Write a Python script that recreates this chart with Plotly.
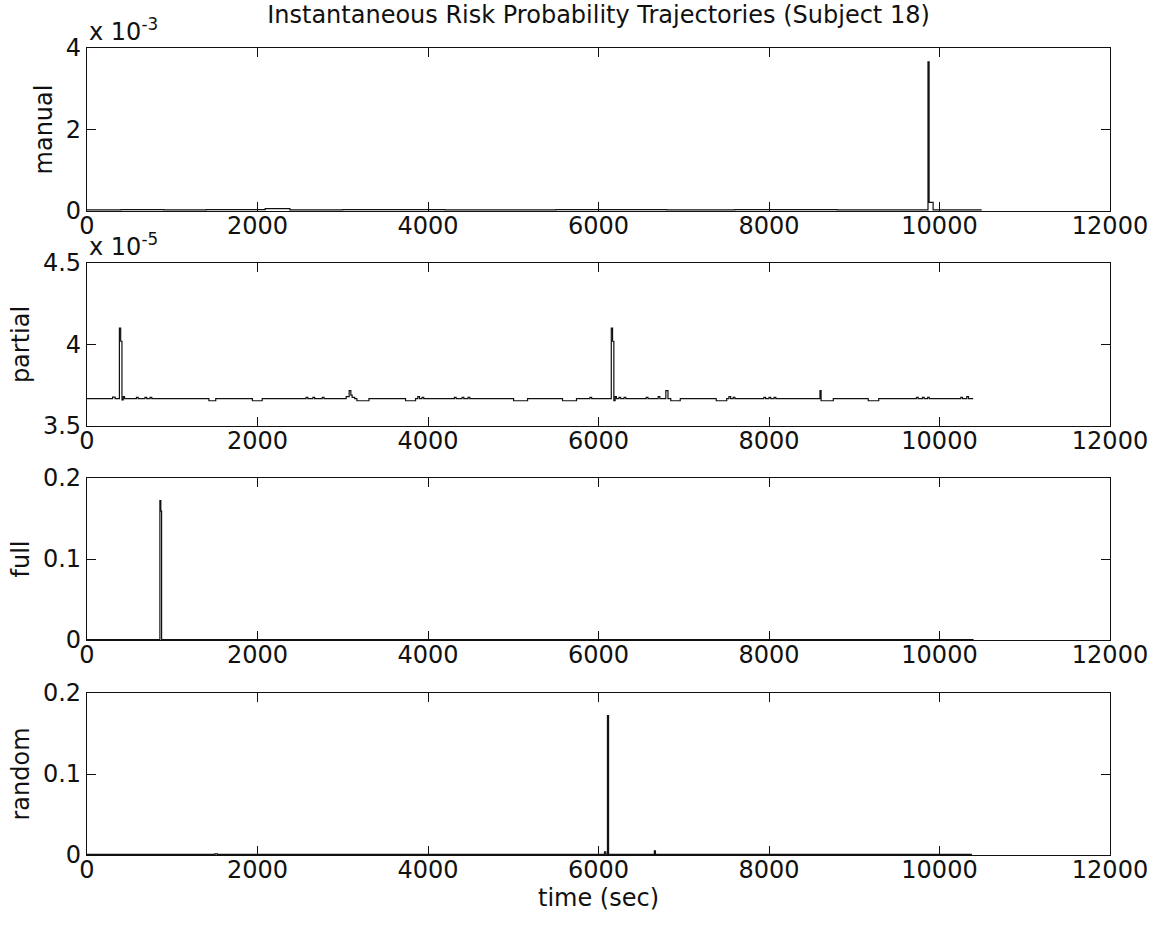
import plotly.graph_objects as go
from plotly.subplots import make_subplots

# ---------------- data ----------------
x_ticks = [0, 2000, 4000, 6000, 8000, 10000, 12000]
x_tick_labels = ["0", "2000", "4000", "6000", "8000", "10000", "12000"]

# manual (units of 1e-3), step trajectory
manual_t = [0, 400, 900, 1400, 2090, 2380, 3000, 4200, 5500, 6800, 7600, 8800,
            9865, 9878, 9925, 10495]
manual_v = [0.03, 0.035, 0.03, 0.035, 0.06, 0.03, 0.035, 0.03, 0.035, 0.03,
            0.035, 0.03, 3.66, 0.21, 0.03, 0.03]

# partial (units of 1e-5), step trajectory
partial_t = [0, 300, 330, 380, 395, 410, 425, 440, 580, 600, 680, 700, 740, 760,
             1430, 1510, 1940, 2055, 2570, 2590, 2650, 2670, 2760, 2780,
             3040, 3075, 3095, 3110, 3140, 3166, 3307, 3737, 3854, 3880, 3900,
             3930, 3950, 4310, 4330, 4400, 4420, 4470, 4490,
             5004, 5168, 5578, 5742, 5900, 5920,
             6150, 6165, 6180, 6195, 6210, 6240, 6260, 6300, 6320,
             6560, 6580, 6700, 6720, 6790, 6815, 6848, 6959,
             7381, 7504, 7530, 7550, 7580, 7600,
             7940, 7960, 8000, 8020, 8060, 8080,
             8598, 8611, 8754, 9164, 9287,
             9730, 9750, 9800, 9820, 9860, 9880,
             10250, 10270, 10320, 10340, 10395]
partial_v = [3.668, 3.677, 3.668, 4.10, 4.02, 3.66, 3.68, 3.668, 3.675, 3.668,
             3.675, 3.668, 3.675, 3.668,
             3.655, 3.668, 3.655, 3.668, 3.675, 3.668, 3.675, 3.668, 3.675, 3.668,
             3.68, 3.717, 3.69, 3.675, 3.668, 3.655, 3.668, 3.655, 3.668, 3.68, 3.668,
             3.675, 3.668, 3.675, 3.668, 3.675, 3.668, 3.675, 3.668,
             3.655, 3.668, 3.655, 3.668, 3.675, 3.668,
             4.10, 4.02, 3.655, 3.68, 3.668, 3.675, 3.668, 3.675, 3.668,
             3.675, 3.668, 3.68, 3.668, 3.717, 3.668, 3.655, 3.668,
             3.655, 3.668, 3.68, 3.668, 3.675, 3.668,
             3.675, 3.668, 3.675, 3.668, 3.675, 3.668,
             3.717, 3.655, 3.668, 3.655, 3.668,
             3.675, 3.668, 3.675, 3.668, 3.675, 3.668,
             3.675, 3.668, 3.68, 3.668, 3.668]

# full, step trajectory
full_t = [0, 855, 866, 875, 10400]
full_v = [0.0005, 0.172, 0.159, 0.0005, 0.0005]

# random, step trajectory
random_t = [0, 1500, 1530, 6070, 6085, 6105, 6118, 6655, 6668, 10380]
random_v = [0.0008, 0.0015, 0.0008, 0.004, 0.0008, 0.172, 0.0008, 0.005, 0.0008, 0.0008]

panel_names = ["manual", "partial", "full", "random"]
manual_scale = 1e-3
partial_scale = 1e-5

# ---------------- figure ----------------
W, H = 1160, 930
L, R, T, B = 87, 50, 48, 75
plot_h = H - T - B
panels_px = [(48, 211), (263, 426), (478, 640), (693, 855)]

def dom(top, bot):
    return [(H - B - bot) / plot_h, (H - B - top) / plot_h]

fig = make_subplots(rows=4, cols=1)

series = [
    (manual_t, [v * manual_scale for v in manual_v]),
    (partial_t, [v * partial_scale for v in partial_v]),
    (full_t, full_v),
    (random_t, random_v),
]
for i, (t, v) in enumerate(series):
    fig.add_trace(go.Scatter(x=t, y=v, mode="lines", line=dict(color="#111111", width=1.2, shape="hv"),
                             showlegend=False, hoverinfo="skip"), row=i + 1, col=1)

font_family = "DejaVu Sans, Liberation Sans, Arial, sans-serif"
FS = 24
tick_font = dict(family=font_family, size=FS, color="#111111")

y_specs = [
    dict(range=[0, 4e-3], tickvals=[0, 2e-3, 4e-3], ticktext=["0", "2", "4"]),
    dict(range=[3.5e-5, 4.5e-5], tickvals=[3.5e-5, 4e-5, 4.5e-5], ticktext=["3.5", "4", "4.5"]),
    dict(range=[0, 0.2], tickvals=[0, 0.1, 0.2], ticktext=["0", "0.1", "0.2"]),
    dict(range=[0, 0.2], tickvals=[0, 0.1, 0.2], ticktext=["0", "0.1", "0.2"]),
]

axis_common = dict(showline=True, linecolor="#111111", linewidth=1.2, mirror="allticks",
                   ticks="inside", ticklen=9, tickwidth=1.2, tickcolor="#111111",
                   showgrid=False, zeroline=False, tickfont=tick_font)

for i in range(4):
    k = "" if i == 0 else str(i + 1)
    top, bot = panels_px[i]
    fig.layout["xaxis" + k].update(domain=[0, 1], range=[0, 12000], tickvals=x_ticks,
                                   ticktext=x_tick_labels, ticklabelstandoff=-7, **axis_common)
    fig.layout["yaxis" + k].update(domain=dom(top, bot), title=dict(text=panel_names[i],
                                   font=dict(family=font_family, size=FS, color="#111111"), standoff=6),
                                   **y_specs[i], **axis_common)

# x-axis title under the bottom panel
fig.add_annotation(text="time (sec)", xref="paper", yref="paper", x=0.5, xanchor="center",
                   y=0, yanchor="top", yshift=-27, showarrow=False,
                   font=dict(family=font_family, size=FS, color="#111111"))

# exponent labels
for txt, top in [("x 10<sup>-3</sup>", panels_px[0][0]), ("x 10<sup>-5</sup>", panels_px[1][0])]:
    fig.add_annotation(text=txt, xref="paper", yref="paper", x=0, xanchor="left",
                       y=(H - B - top) / plot_h, yanchor="bottom", yshift=0, showarrow=False,
                       font=dict(family=font_family, size=FS, color="#111111"))

fig.update_layout(
    width=W, height=H,
    margin=dict(l=L, r=R, t=T, b=B),
    paper_bgcolor="white", plot_bgcolor="white",
    title=dict(text="Instantaneous Risk Probability Trajectories (Subject 18)",
               x=(L + (W - R)) / 2 / W, xanchor="center", y=1 - 15 / H, yanchor="middle",
               font=dict(family=font_family, size=24, color="#111111")),
)

fig.write_html("out.html")
